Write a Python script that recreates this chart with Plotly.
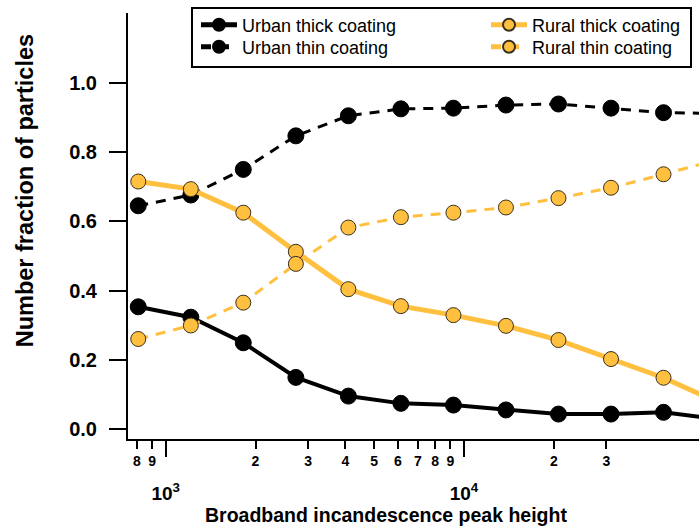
import plotly.graph_objects as go

# ---- data ----
peak_height = [809, 1214, 1820, 2731, 4096, 6144, 9216, 13824, 20736, 31104, 46656, 69984]
urban_thick = [0.353, 0.323, 0.249, 0.149, 0.095, 0.074, 0.069, 0.055, 0.043, 0.043, 0.048, 0.029]
urban_thin = [0.645, 0.676, 0.750, 0.847, 0.905, 0.925, 0.927, 0.936, 0.939, 0.927, 0.914, 0.912]
rural_thick = [0.715, 0.693, 0.625, 0.512, 0.404, 0.355, 0.329, 0.298, 0.257, 0.202, 0.148, 0.080]
rural_thin = [0.260, 0.299, 0.365, 0.477, 0.582, 0.612, 0.625, 0.640, 0.667, 0.697, 0.736, 0.777]

minor_tick_vals = [800, 900, 2000, 3000, 4000, 5000, 6000, 7000, 8000, 9000, 20000, 30000]
minor_tick_text = ["8", "9", "2", "3", "4", "5", "6", "7", "8", "9", "2", "3"]
major_tick_vals = [1000, 10000]
major_tick_text = ["10<sup>3</sup>", "10<sup>4</sup>"]
y_tick_vals = [0.0, 0.2, 0.4, 0.6, 0.8, 1.0]

BLACK = "#000000"
ORANGE = "#FFBF3F"
FONT = "Liberation Sans, Arial, sans-serif"

fig = go.Figure()

fig.add_trace(go.Scatter(
    x=peak_height, y=urban_thick, name="Urban thick coating", mode="lines+markers",
    line=dict(color=BLACK, width=4),
    marker=dict(color=BLACK, size=16, line=dict(color=BLACK, width=1)),
    legend="legend"))
fig.add_trace(go.Scatter(
    x=peak_height, y=urban_thin, name="Urban thin coating", mode="lines+markers",
    line=dict(color=BLACK, width=3, dash="10px,8px"),
    marker=dict(color=BLACK, size=16, line=dict(color=BLACK, width=1)),
    legend="legend2"))
fig.add_trace(go.Scatter(
    x=peak_height, y=rural_thick, name="Rural thick coating", mode="lines+markers",
    line=dict(color=ORANGE, width=5),
    marker=dict(color=ORANGE, size=15, line=dict(color="#3a3020", width=1)),
    legend="legend3"))
fig.add_trace(go.Scatter(
    x=peak_height, y=rural_thin, name="Rural thin coating", mode="lines+markers",
    line=dict(color=ORANGE, width=3, dash="10px,8px"),
    marker=dict(color=ORANGE, size=15, line=dict(color="#3a3020", width=1)),
    legend="legend4"))

# invisible trace on the overlaying axis so it renders
fig.add_trace(go.Scatter(x=[1000], y=[None], xaxis="x2", showlegend=False,
                         hoverinfo="skip", mode="markers"))

xr = [2.8736, 4.7878]


def leg(x, y):
    return dict(orientation="v", x=x, xanchor="left", y=y, yanchor="middle",
                borderwidth=0, bgcolor="rgba(0,0,0,0)",
                font=dict(family=FONT, size=18, color="black"),
                itemsizing="constant", itemwidth=36)


fig.update_layout(
    width=699, height=529,
    margin=dict(l=128, r=0, t=13, b=90),
    paper_bgcolor="white", plot_bgcolor="white",
    font=dict(family=FONT, color="black"),
    showlegend=True,
    legend=leg(0.1191, 0.9718),
    legend2=leg(0.1191, 0.9202),
    legend3=leg(0.6270, 0.9718),
    legend4=leg(0.6270, 0.9202),
    shapes=[dict(type="rect", xref="paper", yref="paper",
                 x0=0.1121, x1=0.986, y0=0.8732, y1=1.0117,
                 line=dict(color="black", width=2), fillcolor="white", layer="above")],
    xaxis=dict(
        type="log", range=xr, showgrid=False, zeroline=False,
        showline=True, linecolor="black", linewidth=2,
        ticks="outside", ticklen=8, tickwidth=2, tickcolor="black",
        tickmode="array", tickvals=minor_tick_vals, ticktext=minor_tick_text,
        tickfont=dict(family=FONT, size=14, weight="bold"),
        ticklabelstandoff=0,
    ),
    xaxis2=dict(
        type="log", range=xr, overlaying="x", anchor="y", side="bottom",
        showgrid=False, zeroline=False, showline=False,
        ticks="outside", ticklen=17, tickwidth=2, tickcolor="black",
        tickmode="array", tickvals=major_tick_vals, ticktext=major_tick_text,
        tickfont=dict(family=FONT, size=19, weight="bold"),
        ticklabelstandoff=20,
    ),
    yaxis=dict(
        range=[-0.029, 1.202], showgrid=False, zeroline=False,
        showline=True, linecolor="black", linewidth=2,
        ticks="outside", ticklen=17, tickwidth=2, tickcolor="black",
        tickmode="array", tickvals=y_tick_vals, tickformat=".1f",
        tickfont=dict(family=FONT, size=20, weight="bold"),
        ticklabelstandoff=8,
    ),
    annotations=[
        dict(text="Broadband incandescence peak height", xref="paper", yref="paper",
             x=0.451, y=-0.178, xanchor="center", yanchor="middle", showarrow=False,
             font=dict(family=FONT, size=19.5, weight="bold", color="black")),
        dict(text="Number fraction of particles", xref="paper", yref="paper",
             x=-0.180, y=0.582, xanchor="center", yanchor="middle", showarrow=False,
             textangle=-90,
             font=dict(family=FONT, size=23.5, weight="bold", color="black")),
    ],
)

fig.write_html("out.html")
